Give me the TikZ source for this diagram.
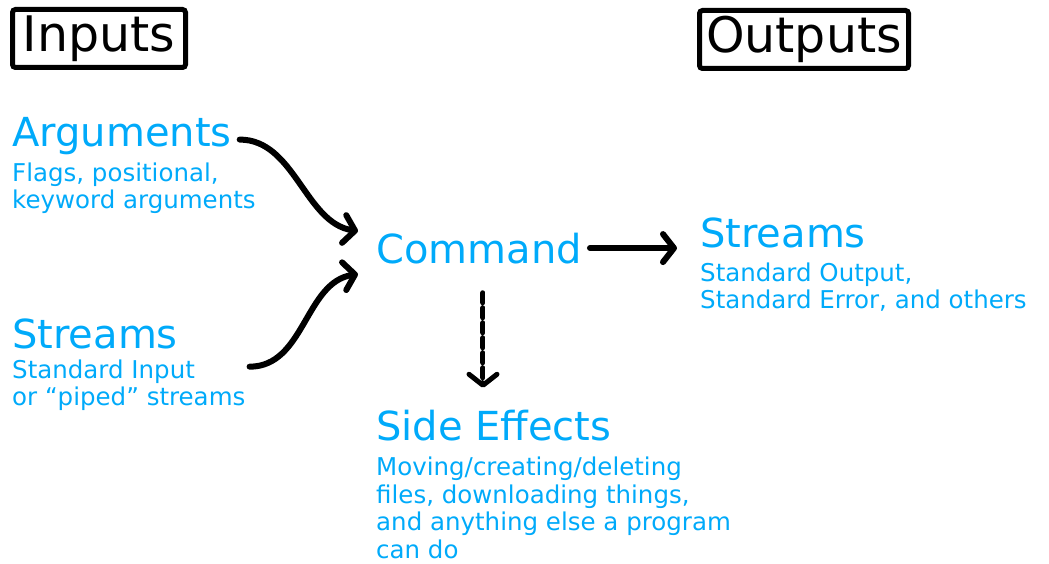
\documentclass[tikz,border=0pt]{standalone}
\usepackage{fontspec}
\setmainfont{DejaVu Sans}
\usetikzlibrary{arrows.meta}
\definecolor{cliblue}{RGB}{0,170,250}
\tikzset{
  box/.style={draw, line width=5pt, rounded corners=3pt, inner sep=0pt,
    minimum height=58pt, font=\fontsize{49}{52}\selectfont},
  head/.style={anchor=base west, inner sep=0pt, text=cliblue,
    font=\fontsize{40}{44}\selectfont},
  % multi-line text: base is the last line
  desc/.style={anchor=base west, inner sep=0pt, align=left, text=cliblue,
    font=\fontsize{24.5}{26.5}\selectfont},
  arr/.style={line width=6pt, line cap=round,
    -{Straight Barb[length=11pt,width=28pt,round]}},
}

\begin{document}
\begin{tikzpicture}[x=1pt,y=-1pt]
  \useasboundingbox (0,0) rectangle (1049,564);

  % column headings
  \node[box, minimum width=173pt] (inputs) at (99,38.5) {Inputs};
  \node[box, minimum width=209pt] (outputs) at (804,39.5) {Outputs};

  % inputs
  \node[head] (args) at (12,147) {Arguments};
  \node[desc] (argsdesc) at (12,208) {Flags, positional,\\keyword arguments};
  \node[head] (instreams) at (12,348) {Streams};
  \node[desc] (instreamsdesc) at (12,405) {Standard Input\\or “piped” streams};

  % the command itself
  \node[head] (cmd) at (376,263) {Command};

  % outputs
  \node[head] (outstreams) at (700,247) {Streams};
  \node[desc] (outstreamsdesc) at (700,308) {Standard Output,\\Standard Error, and others};
  \node[head] (side) at (376,440) {Side Effects};
  \node[desc, font=\fontsize{24.5}{27.5}\selectfont] (sidedesc) at (376,558)
    {Moving/creating/deleting\\files, downloading things,\\and anything else a program\\can do};

  % arrows
  \draw[arr] ([xshift=8pt,yshift=-3pt]args.east)
    .. controls +(55,0) and +(-53,-8) .. ([xshift=-18pt,yshift=17pt]cmd.west);
  \draw[arr] ([xshift=4pt,yshift=-7pt]instreamsdesc.north east)
    .. controls +(55,0) and +(-53,8) .. ([xshift=-18pt,yshift=-26pt]cmd.west);
  \draw[arr] ([xshift=8pt]cmd.east) -- ++(87,0);
  \draw[arr, line width=5pt, dash pattern=on 10pt off 5pt]
    ([xshift=4pt,yshift=-29pt]cmd.south) -- ++(0,95);
\end{tikzpicture}
\end{document}
